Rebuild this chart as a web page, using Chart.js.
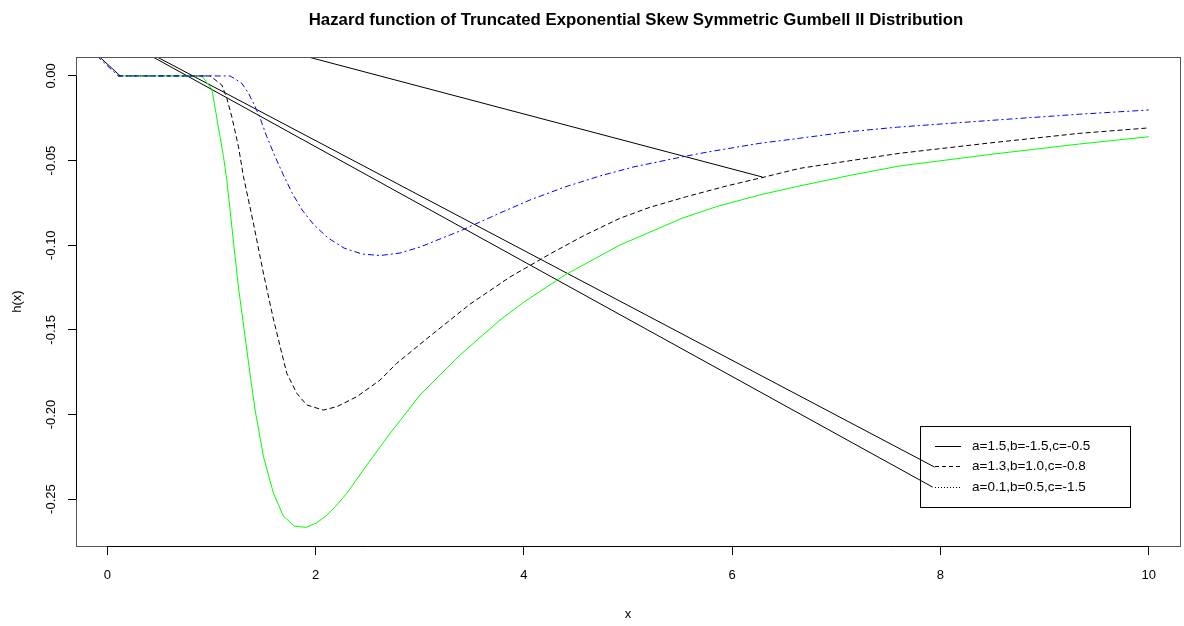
<!DOCTYPE html>
<html>
<head>
<meta charset="utf-8">
<title>Hazard function</title>
<script src="https://cdn.jsdelivr.net/npm/chart.js@4.4.0/dist/chart.umd.min.js"></script>
<style>
  html, body { margin: 0; padding: 0; background: #fff; }
</style>
</head>
<body>
<canvas id="chart" width="1184" height="626"></canvas>
<script>
// values
var titleText = "Hazard function of Truncated Exponential Skew Symmetric Gumbell II Distribution";
var xTicks = [0, 2, 4, 6, 8, 10];
var yTicks = [0, -0.05, -0.10, -0.15, -0.20, -0.25];
var legendLabels = ["a=1.5,b=-1.5,c=-0.5", "a=1.3,b=1.0,c=-0.8", "a=0.1,b=0.5,c=-1.5"];

// green solid curve
var greenX = [0.106, 0.909, 1.005, 1.052, 1.116, 1.148, 1.257, 1.379, 1.420,
              1.500, 1.596, 1.691, 1.797, 1.909, 2.012, 2.108, 2.204, 2.300, 2.492,
              2.715, 3.003, 3.387, 3.771, 4.001, 4.394, 4.922, 5.526, 5.850, 6.264,
              6.617, 7.126, 7.607, 8.472, 9.335, 10.0];
var greenY = [0, 0, -0.0079, -0.0248, -0.0477, -0.0615, -0.1235, -0.1797, -0.1974,
              -0.2250, -0.2466, -0.2600, -0.2660, -0.2667, -0.2640, -0.2595, -0.2535, -0.2466, -0.2299,
              -0.2112, -0.1885, -0.1649, -0.1442, -0.1336, -0.1176, -0.0999, -0.0839, -0.0772, -0.0703,
              -0.0654, -0.0588, -0.0532, -0.0464, -0.0402, -0.0359];

// black dashed curve
var dashX = [0.106, 0.988, 1.100, 1.148, 1.196, 1.260, 1.308, 1.401, 1.497, 1.593,
             1.692, 1.724, 1.820, 1.916, 2.075, 2.204, 2.396, 2.619, 2.779, 3.099,
             3.483, 3.866, 4.250, 4.586, 4.922, 5.210, 5.562, 5.946, 6.297, 6.649,
             7.129, 7.608, 8.472, 9.335, 10.0];
var dashY = [0, 0, -0.0053, -0.0132, -0.0241, -0.0418, -0.0595, -0.0863, -0.1158, -0.1430,
             -0.1678, -0.1757, -0.1875, -0.1944, -0.1974, -0.1954, -0.1895, -0.1797, -0.1698, -0.1537,
             -0.1348, -0.1188, -0.1052, -0.0940, -0.0841, -0.0776, -0.0713, -0.0650, -0.0599, -0.0546,
             -0.0501, -0.0457, -0.0396, -0.0339, -0.0307];

// blue dot-dash curve
var blueX = [-0.2, 0.106, 1.180, 1.292, 1.356, 1.420, 1.468, 1.532, 1.612, 1.691,
             1.775, 1.871, 1.986, 2.120, 2.274, 2.447, 2.619, 2.811, 3.003, 3.195,
             3.387, 3.579, 3.770, 4.058, 4.394, 4.730, 5.049, 5.529, 5.785, 6.265,
             6.649, 7.128, 7.577, 8.472, 9.335, 10.0];
var blueY = [0.0176, 0, 0, -0.0043, -0.0102, -0.0181, -0.0250, -0.0359, -0.0477, -0.0585,
             -0.0691, -0.0792, -0.0881, -0.0957, -0.1017, -0.1052, -0.1061, -0.1046, -0.1011, -0.0963,
             -0.0916, -0.0863, -0.0810, -0.0733, -0.0656, -0.0591, -0.0538, -0.0477, -0.0447, -0.0398,
             -0.0368, -0.0329, -0.0303, -0.0263, -0.0226, -0.0201];

// stray straight black segments (start / end points)
var segX0 = [-0.185, 0.3, 0.25, 1.5];
var segY0 = [0.0176, 0.0170, 0.0176, 0.0182];
var segX1 = [0.125, 7.944, 7.925, 6.29];
var segY1 = [0, -0.2311, -0.2429, -0.0597];

var FONT = '"Liberation Sans", Arial, Helvetica, sans-serif';

function pairs(xs, ys) {
    return xs.map(function(x, i) { return { x: x, y: ys[i] }; });
}

function segmentData() {
    var out = [];
    segX0.forEach(function(x0, i) {
        out.push({ x: x0, y: segY0[i] });
        out.push({ x: segX1[i], y: segY1[i] });
        out.push({ x: segX1[i], y: null });
    });
    return out;
}

// R-like decorations: box, rotated y labels, title, legend
var rPlot = {
    id: 'rPlot',
    afterDraw: function(chart) {
        var ctx = chart.ctx, area = chart.chartArea;
        var xs = chart.scales.x, ys = chart.scales.y;
        ctx.save();

        ctx.lineWidth = 1;
        ctx.strokeStyle = '#555';
        ctx.strokeRect(Math.round(area.left) + 0.5, Math.round(area.top) + 0.5,
                       Math.round(area.right - area.left), Math.round(area.bottom - area.top));

        ctx.strokeStyle = '#000';
        ctx.beginPath();
        ctx.moveTo(xs.getPixelForValue(xTicks[0]), Math.round(area.bottom) + 0.5);
        ctx.lineTo(xs.getPixelForValue(xTicks[xTicks.length - 1]), Math.round(area.bottom) + 0.5);
        ctx.moveTo(Math.round(area.left) + 0.5, ys.getPixelForValue(yTicks[0]));
        ctx.lineTo(Math.round(area.left) + 0.5, ys.getPixelForValue(yTicks[yTicks.length - 1]));
        ctx.stroke();

        ctx.fillStyle = '#000';
        ctx.font = '13px ' + FONT;
        ctx.textAlign = 'center';
        ctx.textBaseline = 'middle';
        yTicks.forEach(function(v) {
            ctx.save();
            ctx.translate(area.left - 25, ys.getPixelForValue(v));
            ctx.rotate(-Math.PI / 2);
            ctx.fillText(Math.abs(v) < 1e-9 ? '0.00' : v.toFixed(2), 0, 0);
            ctx.restore();
        });

        ctx.font = 'bold 16.8px ' + FONT;
        ctx.fillText(titleText, (area.left + area.right) / 2 + 8, 20);

        // legend box, no fill so the stray lines stay visible
        var lx = 920, ly = 426, lw = 210, lh = 81;
        var rows = [446, 466, 487];
        var dashes = [[], [4, 3], [1, 2]];
        ctx.strokeStyle = '#000';
        ctx.strokeRect(lx + 0.5, ly + 0.5, lw, lh);
        ctx.font = '13.5px ' + FONT;
        ctx.textAlign = 'left';
        legendLabels.forEach(function(label, i) {
            ctx.setLineDash(dashes[i]);
            ctx.beginPath();
            ctx.moveTo(935, rows[i] + 0.5);
            ctx.lineTo(961, rows[i] + 0.5);
            ctx.stroke();
            ctx.setLineDash([]);
            ctx.fillStyle = '#000';
            ctx.fillText(label, 972, rows[i]);
        });

        ctx.restore();
    }
};

new Chart(document.getElementById('chart'), {
    type: 'line',
    data: {
        datasets: [
            {
                label: 'blue',
                data: pairs(blueX, blueY),
                borderColor: '#0000ff',
                borderWidth: 1,
                borderDash: [6, 3, 2, 3],
                pointRadius: 0,
                tension: 0
            },
            {
                label: 'dashed',
                data: pairs(dashX, dashY),
                borderColor: '#000000',
                borderWidth: 1,
                borderDash: [5, 3],
                pointRadius: 0,
                tension: 0
            },
            {
                label: 'green',
                data: pairs(greenX, greenY),
                borderColor: '#00ff00',
                borderWidth: 1,
                pointRadius: 0,
                tension: 0
            },
            {
                label: 'segments',
                data: segmentData(),
                borderColor: '#000000',
                borderWidth: 1,
                pointRadius: 0,
                tension: 0,
                spanGaps: false
            }
        ]
    },
    options: {
        responsive: false,
        animation: false,
        layout: { padding: { top: 57, right: 4, left: 0, bottom: 0 } },
        plugins: {
            legend: { display: false },
            title: { display: false },
            tooltip: { enabled: false }
        },
        scales: {
            x: {
                type: 'linear',
                min: -0.3,
                max: 10.3,
                afterBuildTicks: function(s) {
                    s.ticks = xTicks.map(function(v) { return { value: v }; });
                },
                afterFit: function(s) { s.height = 80; },
                border: { display: false },
                grid: { drawOnChartArea: false, drawTicks: true, tickLength: 9, tickColor: '#000' },
                ticks: {
                    color: '#000',
                    font: { family: FONT, size: 13 },
                    padding: 13,
                    maxRotation: 0,
                    autoSkip: false,
                    callback: function(v) { return String(v); }
                },
                title: {
                    display: true,
                    text: 'x',
                    color: '#000',
                    font: { family: FONT, size: 13 },
                    padding: { top: 0, bottom: 4 }
                }
            },
            y: {
                type: 'linear',
                min: -0.2777,
                max: 0.0112,
                afterBuildTicks: function(s) {
                    s.ticks = yTicks.map(function(v) { return { value: v }; });
                },
                afterFit: function(s) { s.width = 76; },
                border: { display: false },
                grid: { drawOnChartArea: false, drawTicks: true, tickLength: 8, tickColor: '#000' },
                ticks: { display: false },
                title: {
                    display: true,
                    text: 'h(x)',
                    color: '#000',
                    font: { family: FONT, size: 13 },
                    padding: { top: 10, bottom: 0 }
                }
            }
        }
    },
    plugins: [rPlot]
});
</script>
</body>
</html>
